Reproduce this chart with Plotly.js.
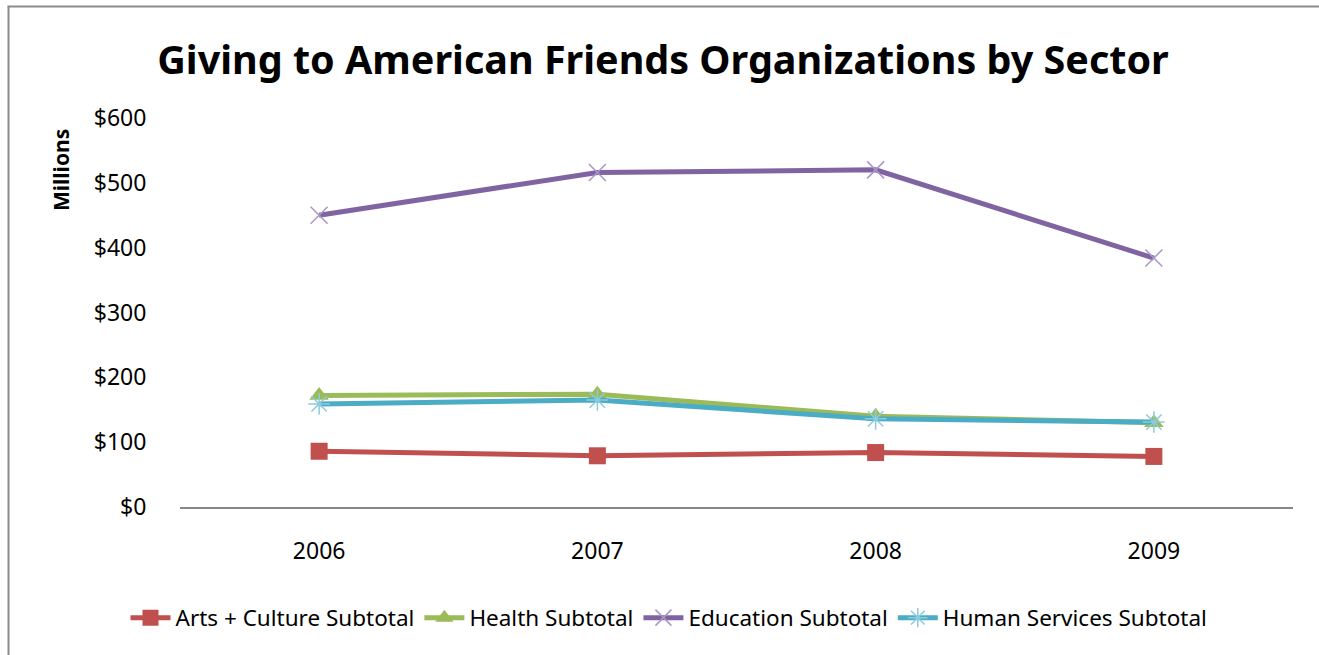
<!DOCTYPE html>
<html>
<head>
<meta charset="utf-8">
<script src="https://cdn.plot.ly/plotly-3.0.1.min.js"></script>
<style>
html,body{margin:0;padding:0;background:#fff;overflow:hidden;}
#chart{width:1319px;height:655px;}
</style>
</head>
<body>
<div id="chart"></div>
<script>
const years = ['2006', '2007', '2008', '2009'];
const artsCulture = [86, 79, 84, 78];
const health = [172, 174, 140, 130];
const education = [450, 516, 520, 384];
const humanServices = [159, 165, 136, 131];
const yTickVals = [0, 100, 200, 300, 400, 500, 600];
const yTickText = ['$0', '$100', '$200', '$300', '$400', '$500', '$600'];

const FONT = 'Noto Sans, Open Sans, sans-serif';

const traces = [
  {
    x: years, y: artsCulture, name: 'Arts + Culture Subtotal', type: 'scatter', mode: 'lines+markers',
    line: {color: '#C0504D', width: 5},
    marker: {symbol: 'square', size: 17, color: '#C0504D'}
  },
  {
    x: years, y: health, name: 'Health Subtotal', type: 'scatter', mode: 'lines+markers',
    line: {color: '#9BBB59', width: 5},
    marker: {symbol: 'triangle-up', size: 17, color: '#9BBB59'}
  },
  {
    x: years, y: education, name: 'Education Subtotal', type: 'scatter', mode: 'lines+markers',
    line: {color: '#8064A2', width: 5},
    marker: {symbol: 'x-thin-open', size: 17, color: '#A897C6', line: {color: '#A897C6', width: 1.5}}
  },
  {
    x: years, y: humanServices, name: 'Human Services Subtotal', type: 'scatter', mode: 'lines+markers',
    line: {color: '#4BACC6', width: 5},
    marker: {symbol: 'asterisk-open', size: 18, color: '#8CCBDD', line: {color: '#8CCBDD', width: 1.5}}
  }
];

const L = 180, R = 26, T = 118, B = 148, W = 1319, H = 655;
const pw = W - L - R, ph = H - T - B;
function px(x){ return (x - L) / pw; }
function py(y){ return (H - B - y) / ph; }

const layout = {
  width: W, height: H,
  margin: {l: L, r: R, t: T, b: B, pad: 0},
  paper_bgcolor: '#ffffff', plot_bgcolor: '#ffffff',
  font: {family: FONT, color: '#000'},
  title: {
    text: '<b>Giving to American Friends Organizations by Sector</b>',
    font: {family: FONT, size: 39.5, color: '#000'},
    x: 663 / W, xanchor: 'center', y: 1 - 60 / H, yanchor: 'middle'
  },
  xaxis: {
    type: 'category', range: [-0.5, 3.5],
    showgrid: false, zeroline: false,
    showline: true, linecolor: '#888', linewidth: 1.5,
    ticks: 'outside', ticklen: 23, tickcolor: 'rgba(0,0,0,0)',
    tickfont: {family: FONT, size: 23, color: '#000'},
    automargin: false
  },
  yaxis: {
    range: [0, 600],
    tickvals: yTickVals, ticktext: yTickText,
    showgrid: false, zeroline: false, showline: false,
    ticks: 'outside', ticklen: 28, tickcolor: 'rgba(0,0,0,0)',
    tickfont: {family: FONT, size: 23, color: '#000'},
    automargin: false
  },
  showlegend: true,
  legend: {
    orientation: 'h', xref: 'container', yref: 'container',
    x: 669 / W, xanchor: 'center', y: 1 - 618 / H, yanchor: 'middle',
    font: {family: FONT, size: 22.5, color: '#000'},
    itemwidth: 40, tracegroupgap: 0, bgcolor: 'rgba(0,0,0,0)'
  },
  annotations: [{
    text: '<b>Millions</b>', xref: 'paper', yref: 'paper',
    x: px(61), y: py(170), xanchor: 'center', yanchor: 'middle',
    textangle: -90, showarrow: false,
    font: {family: FONT, size: 21, color: '#000'}
  }],
  shapes: [
    {type: 'line', xref: 'paper', yref: 'paper', x0: px(8.5), x1: px(8.5), y0: py(6.5), y1: py(660),
     line: {color: '#8a8a8a', width: 2}},
    {type: 'line', xref: 'paper', yref: 'paper', x0: px(7.5), x1: px(1325), y0: py(6.5), y1: py(6.5),
     line: {color: '#8a8a8a', width: 2}}
  ]
};

Plotly.newPlot('chart', traces, layout, {displayModeBar: false, staticPlot: true});
</script>
</body>
</html>
